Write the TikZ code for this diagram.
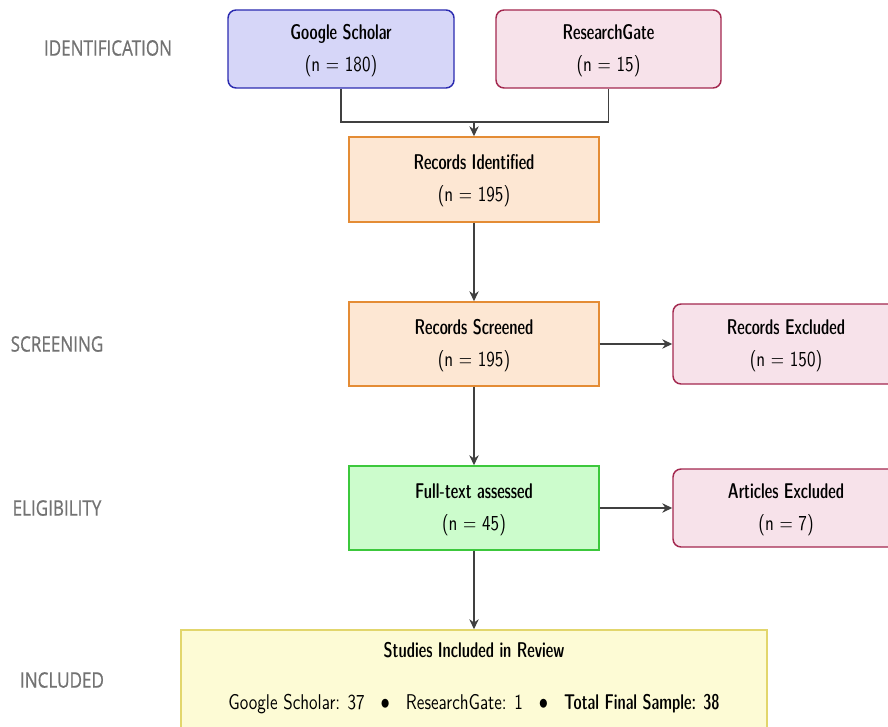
\documentclass[tikz,border=0pt]{standalone}
\usepackage{fontspec}
\setsansfont[BoldFont=lmsansdemicond10-regular.otf]{lmsans10-regular.otf}
\newfontfamily\stagefont[FakeBold=0.8]{Open Sans}
\usetikzlibrary{arrows.meta}
\definecolor{gsfill}{HTML}{D6D6F8}
\definecolor{gsdraw}{HTML}{2B2BB0}
\definecolor{rgfill}{HTML}{F7E2EA}
\definecolor{rgdraw}{HTML}{A3284F}
\definecolor{orfill}{HTML}{FDE7D3}
\definecolor{ordraw}{HTML}{E48C35}
\definecolor{grfill}{HTML}{CCFCCC}
\definecolor{grdraw}{HTML}{3CC83C}
\definecolor{yefill}{HTML}{FDFBD5}
\definecolor{yedraw}{HTML}{E2D66C}
\definecolor{stagegray}{HTML}{727272}
\definecolor{arrowgray}{HTML}{404040}
\newcommand{\sqz}[1]{\raisebox{1pt}{\scalebox{0.8}[1]{\begin{tabular}{@{}c@{}}#1\end{tabular}}}}
\tikzset{
  boxbase/.style={line width=1.1pt, align=center, inner sep=0pt,
    font=\sffamily\fontsize{16}{24}\selectfont},
  roundbox/.style={boxbase, rounded corners=6pt},
  sharpbox/.style={boxbase},
  stagelabel/.style={text=stagegray, font=\stagefont\fontsize{16}{18}\selectfont, inner sep=0pt},
  conn/.style={draw=arrowgray, line width=1.1pt},
  arr/.style={conn, -{Stealth[length=7.5pt,width=7pt]}},
}
\begin{document}
\begin{tikzpicture}[x=0.75pt,y=-0.75pt]
\useasboundingbox (0,0) rectangle (888,727);
% stage labels
\node[stagelabel] (lid) at (108,48) {\scalebox{0.8}[1]{IDENTIFICATION}};
\node[stagelabel] (lsc) at (57,344) {\scalebox{0.8}[1]{SCREENING}};
\node[stagelabel] (lel) at (57,508) {\scalebox{0.8}[1]{ELIGIBILITY}};
\node[stagelabel] (lin) at (62,680) {\scalebox{0.8}[1]{INCLUDED}};
% boxes
\node[roundbox, fill=gsfill, draw=gsdraw, minimum width=169.5pt, minimum height=58.5pt] (gs) at (341,49) {\sqz{\textbf{Google Scholar}\\(n = 180)}};
\node[roundbox, fill=rgfill, draw=rgdraw, minimum width=168.75pt, minimum height=58.5pt] (rg) at (608.5,49) {\sqz{\textbf{ResearchGate}\\(n = 15)}};
\node[sharpbox, fill=orfill, draw=ordraw, minimum width=187.5pt, minimum height=63.75pt] (ri) at (474,179.5) {\sqz{\textbf{Records Identified}\\(n = 195)}};
\node[sharpbox, fill=orfill, draw=ordraw, minimum width=187.5pt, minimum height=63pt] (rs) at (474,344) {\sqz{\textbf{Records Screened}\\(n = 195)}};
\node[roundbox, fill=rgfill, draw=rgdraw, minimum width=169.5pt, minimum height=60pt] (re) at (786,344) {\sqz{\textbf{Records Excluded}\\(n = 150)}};
\node[sharpbox, fill=grfill, draw=grdraw, minimum width=187.5pt, minimum height=63pt] (ft) at (474,508) {\sqz{\textbf{Full-text assessed}\\(n = 45)}};
\node[roundbox, fill=rgfill, draw=rgdraw, minimum width=169.5pt, minimum height=58.5pt] (ae) at (786,508) {\sqz{\textbf{Articles Excluded}\\(n = 7)}};
\node[sharpbox, fill=yefill, draw=yedraw, minimum width=439.5pt, minimum height=82.5pt] (si) at (474,685) {};
\node[boxbase, anchor=base] (sititle) at (474,657) {\scalebox{0.8}[1]{\textbf{Studies Included in Review}}};
\node[boxbase, anchor=base] (siline) at (474,709) {\scalebox{0.8}[1]{Google Scholar: 37\hspace{15pt}$\bullet$\hspace{15pt}ResearchGate: 1\hspace{15pt}$\bullet$\hspace{15pt}\textbf{Total Final Sample: 38}}};
% connectors
\coordinate (merge) at (474,122);
\draw[conn] (gs.south) |- (merge);
\draw[conn] (rg.south) |- (merge);
\draw[arr] (merge) -- (ri.north);
\draw[arr] (ri.south) -- (rs.north);
\draw[arr] (rs.east) -- (rs.east -| re.west);
\draw[arr] (rs.south) -- (ft.north);
\draw[arr] (ft.east) -- (ft.east -| ae.west);
\draw[arr] (ft.south) -- (si.north);
\end{tikzpicture}
\end{document}
